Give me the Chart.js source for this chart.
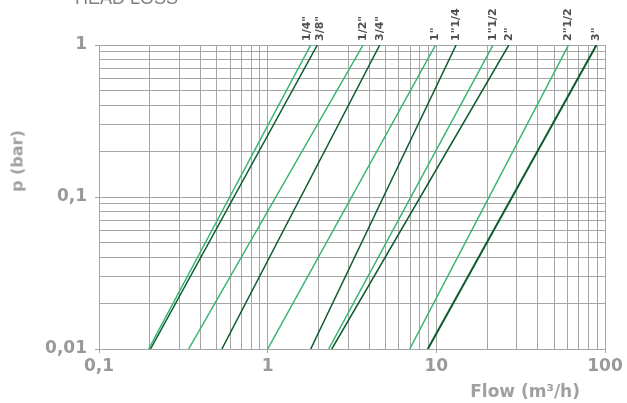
<!DOCTYPE html>
<html>
<head>
<meta charset="utf-8">
<script src="https://cdn.jsdelivr.net/npm/chart.js@4"></script>
<style>
  body { margin: 0; background: #fff; }
  #wrap { position: relative; width: 627px; height: 403px; overflow: hidden; }
  #title { position: absolute; left: 75px; top: -12px; font: 18px "Liberation Sans", sans-serif; color: #808080; }
  #ytitle { position: absolute; left: 17px; top: 161px; font: bold 16px "DejaVu Sans", sans-serif; color: #a0a0a0;
            transform: translate(-50%, -50%) rotate(-90deg); white-space: nowrap; }
  #xtitle { position: absolute; right: 47px; top: 381px; font: bold 17px "DejaVu Sans", sans-serif; color: #a0a0a0; white-space: nowrap; }
</style>
</head>
<body>
<div id="wrap">
  <canvas id="headLoss" width="627" height="403"></canvas>
  <div id="title">HEAD LOSS</div>
  <div id="ytitle">p (bar)</div>
  <div id="xtitle">Flow (m³/h)</div>
</div>
<script>
// pipe sizes and the flow at which each line meets p = 0,01 and p = 1 bar
const sizes = ['1/4"', '3/8"', '1/2"', '3/4"', '1"', '1"1/4', '1"1/2', '2"', '2"1/2', '3"'];
const flowLow = [0.197, 0.202, 0.34, 0.535, 1.0, 1.8, 2.3, 2.4, 6.95, 8.9];
const flowHigh = [1.8, 1.97, 3.68, 4.62, 9.9, 13.1, 21.7, 26.9, 60.8, 89];
const pressures = [0.01, 1];
const xTicks = [0.1, 1, 10, 100];
const yTicks = [0.01, 0.1, 1];

const light = '#35b56f';
const dark = '#0c5a2d';

function decadeTicks(min, max) {
    const out = [];
    for (let d = min; d < max * 0.999; d *= 10) {
        for (let k = 1; k <= 9; k++) out.push({ value: +(d * k).toPrecision(3) });
    }
    out.push({ value: max });
    return out;
}

function fmt(v) {
    return String(v).replace('.', ',');
}

const datasets = sizes.map((s, i) => ({
    label: s,
    data: [{ x: flowLow[i], y: pressures[0] }, { x: flowHigh[i], y: pressures[1] }],
    borderColor: i % 2 === 0 ? light : dark,
    borderWidth: i === sizes.length - 1 ? 2 : 1.5,
    pointRadius: 0,
    fill: false
}));

const sizeLabels = {
    id: 'sizeLabels',
    afterDatasetsDraw(chart) {
        const ctx = chart.ctx;
        const xs = chart.scales.x;
        const pos = flowHigh.map(v => xs.getPixelForValue(v));
        // spread labels that sit too close together
        for (let i = 1; i < pos.length; i++) {
            const gap = pos[i] - pos[i - 1];
            if (gap < 13) {
                const d = (13 - gap) / 2;
                pos[i - 1] -= d;
                pos[i] += d;
            }
        }
        ctx.save();
        ctx.font = 'bold 11px "DejaVu Sans", sans-serif';
        ctx.fillStyle = '#505050';
        ctx.textAlign = 'left';
        ctx.textBaseline = 'middle';
        sizes.forEach((s, i) => {
            ctx.save();
            ctx.translate(pos[i], chart.chartArea.top - 4);
            ctx.rotate(-Math.PI / 2);
            ctx.fillText(s, 0, 0);
            ctx.restore();
        });
        ctx.restore();
    }
};

const ctx = document.getElementById('headLoss').getContext('2d');
new Chart(ctx, {
    type: 'line',
    data: { datasets: datasets },
    plugins: [sizeLabels],
    options: {
        responsive: false,
        animation: false,
        layout: { padding: { top: 45, right: 22, left: 0, bottom: 0 } },
        plugins: { legend: { display: false }, tooltip: { enabled: false } },
        scales: {
            x: {
                type: 'logarithmic',
                min: xTicks[0],
                max: xTicks[xTicks.length - 1],
                afterBuildTicks: s => { s.ticks = decadeTicks(xTicks[0], xTicks[xTicks.length - 1]); },
                afterFit: s => { s.height = 54; },
                grid: {
                    color: '#a6a6a6',
                    tickLength: 4,
                    tickColor: c => xTicks.includes(c.tick && c.tick.value) ? '#a6a6a6' : 'rgba(0,0,0,0)'
                },
                border: { color: '#a6a6a6' },
                ticks: {
                    autoSkip: false,
                    maxRotation: 0,
                    padding: 3,
                    color: '#999',
                    font: { family: 'DejaVu Sans', size: 17, weight: 'bold' },
                    callback: v => xTicks.includes(v) ? fmt(v) : ''
                }
            },
            y: {
                type: 'logarithmic',
                min: yTicks[0],
                max: yTicks[yTicks.length - 1],
                afterBuildTicks: s => { s.ticks = decadeTicks(yTicks[0], yTicks[yTicks.length - 1]); },
                afterFit: s => { s.width = 99; },
                grid: {
                    color: '#a6a6a6',
                    tickLength: 4,
                    tickColor: c => yTicks.includes(c.tick && c.tick.value) ? '#a6a6a6' : 'rgba(0,0,0,0)'
                },
                border: { color: '#a6a6a6' },
                ticks: {
                    autoSkip: false,
                    padding: 8,
                    color: '#999',
                    font: { family: 'DejaVu Sans', size: 17, weight: 'bold' },
                    callback: v => yTicks.includes(v) ? fmt(v) : ''
                }
            }
        }
    }
});
</script>
</body>
</html>
